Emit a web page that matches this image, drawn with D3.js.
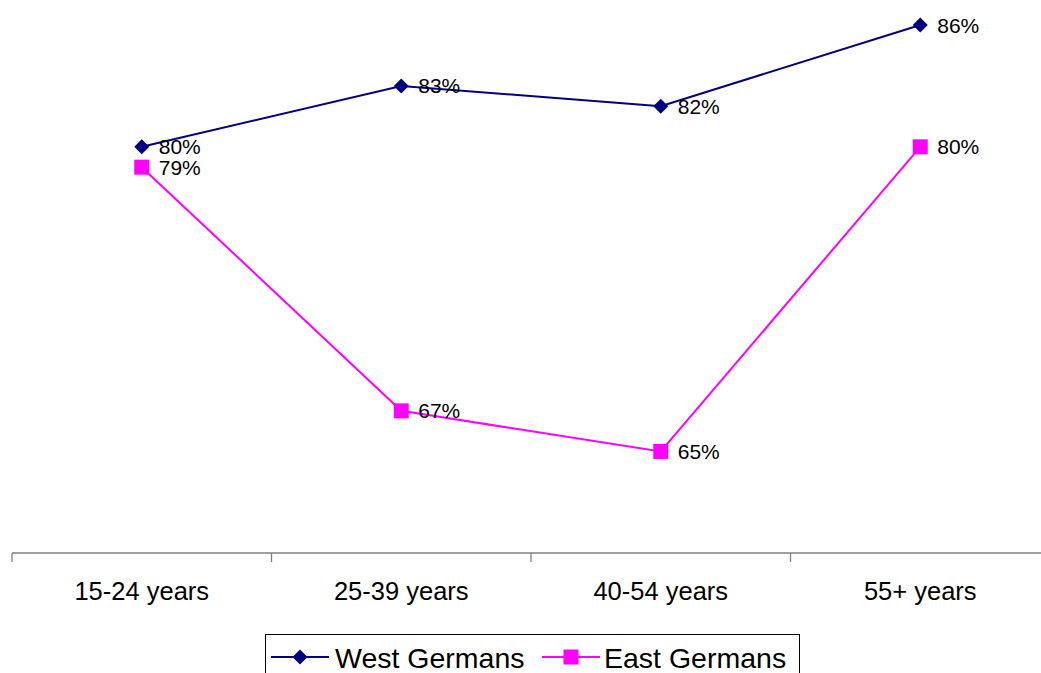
<!DOCTYPE html>
<html><head><meta charset="utf-8">
<script src="https://cdn.jsdelivr.net/npm/d3@7"></script>
<style>body{margin:0;background:#fff;} svg{display:block;font-family:"Liberation Sans",Arial,sans-serif;}</style>
</head><body>
<svg id="c" width="1041" height="673"></svg>
<script>
const categories = ["15-24 years","25-39 years","40-54 years","55+ years"];
const westGermans = [80,83,82,86];
const eastGermans = [79,67,65,80];
const seriesNames = ["West Germans","East Germans"];

const svg = d3.select("#c");
const x = d3.scaleBand().domain(categories).range([12,1050]);
const y = d3.scaleLinear().domain([60,86]).range([553,25]);
const cx = d => x(d) + x.bandwidth()/2;

// axis
const ax = svg.append("g").attr("transform","translate(0,553)");
ax.append("line").attr("x1",12).attr("x2",1041).attr("stroke","#808080").attr("stroke-width",1.3);
ax.selectAll("line.t").data(categories).enter().append("line")
  .attr("x1",d=>x(d)).attr("x2",d=>x(d)).attr("y1",0).attr("y2",9).attr("stroke","#808080").attr("stroke-width",1.3);
ax.selectAll("text").data(categories).enter().append("text")
  .attr("x",d=>cx(d)).attr("y",47).attr("text-anchor","middle").attr("font-size",25.5).attr("fill","#000").text(d=>d);

const series = [
  {name:seriesNames[0], vals:westGermans, color:"#000080", shape:"diamond"},
  {name:seriesNames[1], vals:eastGermans, color:"#FF00FF", shape:"square"}
];
const line = d3.line().x((v,i)=>cx(categories[i])).y(v=>y(v));
function marker(g, shape, color, px, py){
  if(shape==="diamond"){
    g.append("path").attr("d",`M${px},${py-7.5}L${px+7.5},${py}L${px},${py+7.5}L${px-7.5},${py}Z`).attr("fill",color);
  } else {
    g.append("rect").attr("x",px-7.5).attr("y",py-7.5).attr("width",15).attr("height",15).attr("fill",color);
  }
}
series.forEach(s=>{
  svg.append("path").datum(s.vals).attr("d",line).attr("fill","none").attr("stroke",s.color).attr("stroke-width",2);
});
series.forEach(s=>{
  const g = svg.append("g");
  s.vals.forEach((v,i)=>{
    marker(g, s.shape, s.color, cx(categories[i]), y(v));
    g.append("text").attr("x",cx(categories[i])+17).attr("y",y(v)+7.5).attr("font-size",21).attr("fill","#000").text(v+"%");
  });
});

// legend
const lg = svg.append("g");
lg.append("rect").attr("x",265.5).attr("y",634.5).attr("width",534).attr("height",45).attr("fill","#fff").attr("stroke","#000").attr("stroke-width",1);
const items = [{x0:271, tx:335}, {x0:542, tx:604}];
series.forEach((s,i)=>{
  const it = items[i];
  lg.append("line").attr("x1",it.x0).attr("x2",it.x0+58).attr("y1",657).attr("y2",657).attr("stroke",s.color).attr("stroke-width",2);
  marker(lg, s.shape, s.color, it.x0+29, 657);
  lg.append("text").attr("x",it.tx).attr("y",668).attr("font-size",28.5).attr("fill","#000").text(s.name);
});
</script>
</body></html>
